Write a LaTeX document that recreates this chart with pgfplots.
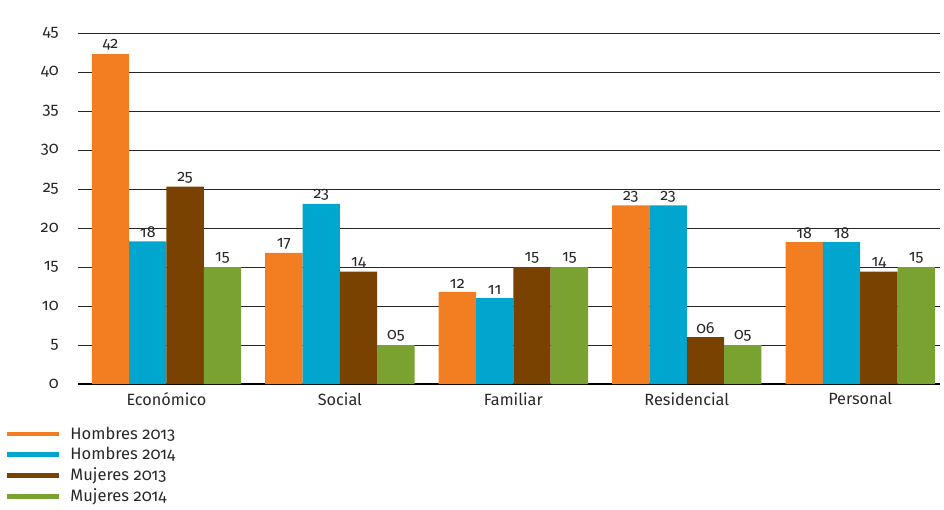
\documentclass[border=0pt]{standalone}
\usepackage{fontspec}
\setmainfont{Fira Sans}[Numbers=OldStyle]
\usepackage{pgfplots}
\pgfplotsset{compat=1.18}
\definecolor{corange}{RGB}{243,126,34}
\definecolor{cblue}{RGB}{0,166,206}
\definecolor{cbrown}{RGB}{121,66,0}
\definecolor{cgreen}{RGB}{122,162,49}
\definecolor{ctext}{RGB}{40,40,40}
\begin{document}
\begin{tikzpicture}
\begin{axis}[
  scale only axis,
  width=646.5pt, height=263.25pt,
  ybar=0pt, bar width=28pt,
  xmin=-0.51, xmax=4.46,
  ymin=0, ymax=45,
  ytick={0,5,...,45},
  xtick={0,1,2,3,4},
  xticklabels={Económico,Social,Familiar,Residencial,Personal},
  major tick length=0pt,
  ymajorgrids,
  grid style={black!85, line width=0.6pt},
  axis x line*=bottom,
  axis y line*=left,
  y axis line style={draw=none},
  x axis line style={black, line width=0.8pt, -},
  /pgf/number format/assume math mode=true,
  tick label style={font=\fontsize{12.2}{14}\selectfont, text=ctext},
  yticklabel style={xshift=-11pt},
  xticklabel style={yshift=-3pt},
  nodes near coords,
  point meta=explicit symbolic,
  every node near coord/.append style={font=\fontsize{12}{14}\selectfont, text=ctext, yshift=-1pt},
  legend style={at={(-0.090,-0.106)}, anchor=north west, draw=none, fill=none,
    font=\fontsize{12.4}{14}\selectfont, text=ctext, row sep=0.6pt},
  legend cell align=left,
]
\addplot[draw=none, fill=corange, legend image code/.code={\draw[line width=3.6pt,corange] (0cm,0cm) -- (1.38cm,0cm); \path (1.6cm,0cm);}] coordinates {(0,42.3)[42] (1,16.8)[17] (2,11.8)[12] (3,22.9)[23] (4,18.2)[18]};
\addplot[draw=none, fill=cblue, legend image code/.code={\draw[line width=3.6pt,cblue] (0cm,0cm) -- (1.38cm,0cm); \path (1.6cm,0cm);}] coordinates {(0,18.3)[18] (1,23.1)[23] (2,11.0)[11] (3,22.9)[23] (4,18.2)[18]};
\addplot[draw=none, fill=cbrown, legend image code/.code={\draw[line width=3.6pt,cbrown] (0cm,0cm) -- (1.38cm,0cm); \path (1.6cm,0cm);}] coordinates {(0,25.3)[25] (1,14.4)[14] (2,15.0)[15] (3,6.0)[06] (4,14.4)[14]};
\addplot[draw=none, fill=cgreen, legend image code/.code={\draw[line width=3.6pt,cgreen] (0cm,0cm) -- (1.38cm,0cm); \path (1.6cm,0cm);}] coordinates {(0,15.0)[15] (1,5.0)[05] (2,15.0)[15] (3,5.0)[05] (4,15.0)[15]};
\legend{Hombres 2013,Hombres 2014,Mujeres 2013,Mujeres 2014}
\end{axis}
\path (current axis.south west) ++(-58.5pt,-88.5pt) coordinate (bl);
\path (current axis.north east) ++(3pt,24.75pt) coordinate (tr);
\path[draw=none] (bl) rectangle (tr);
\end{tikzpicture}
\end{document}
